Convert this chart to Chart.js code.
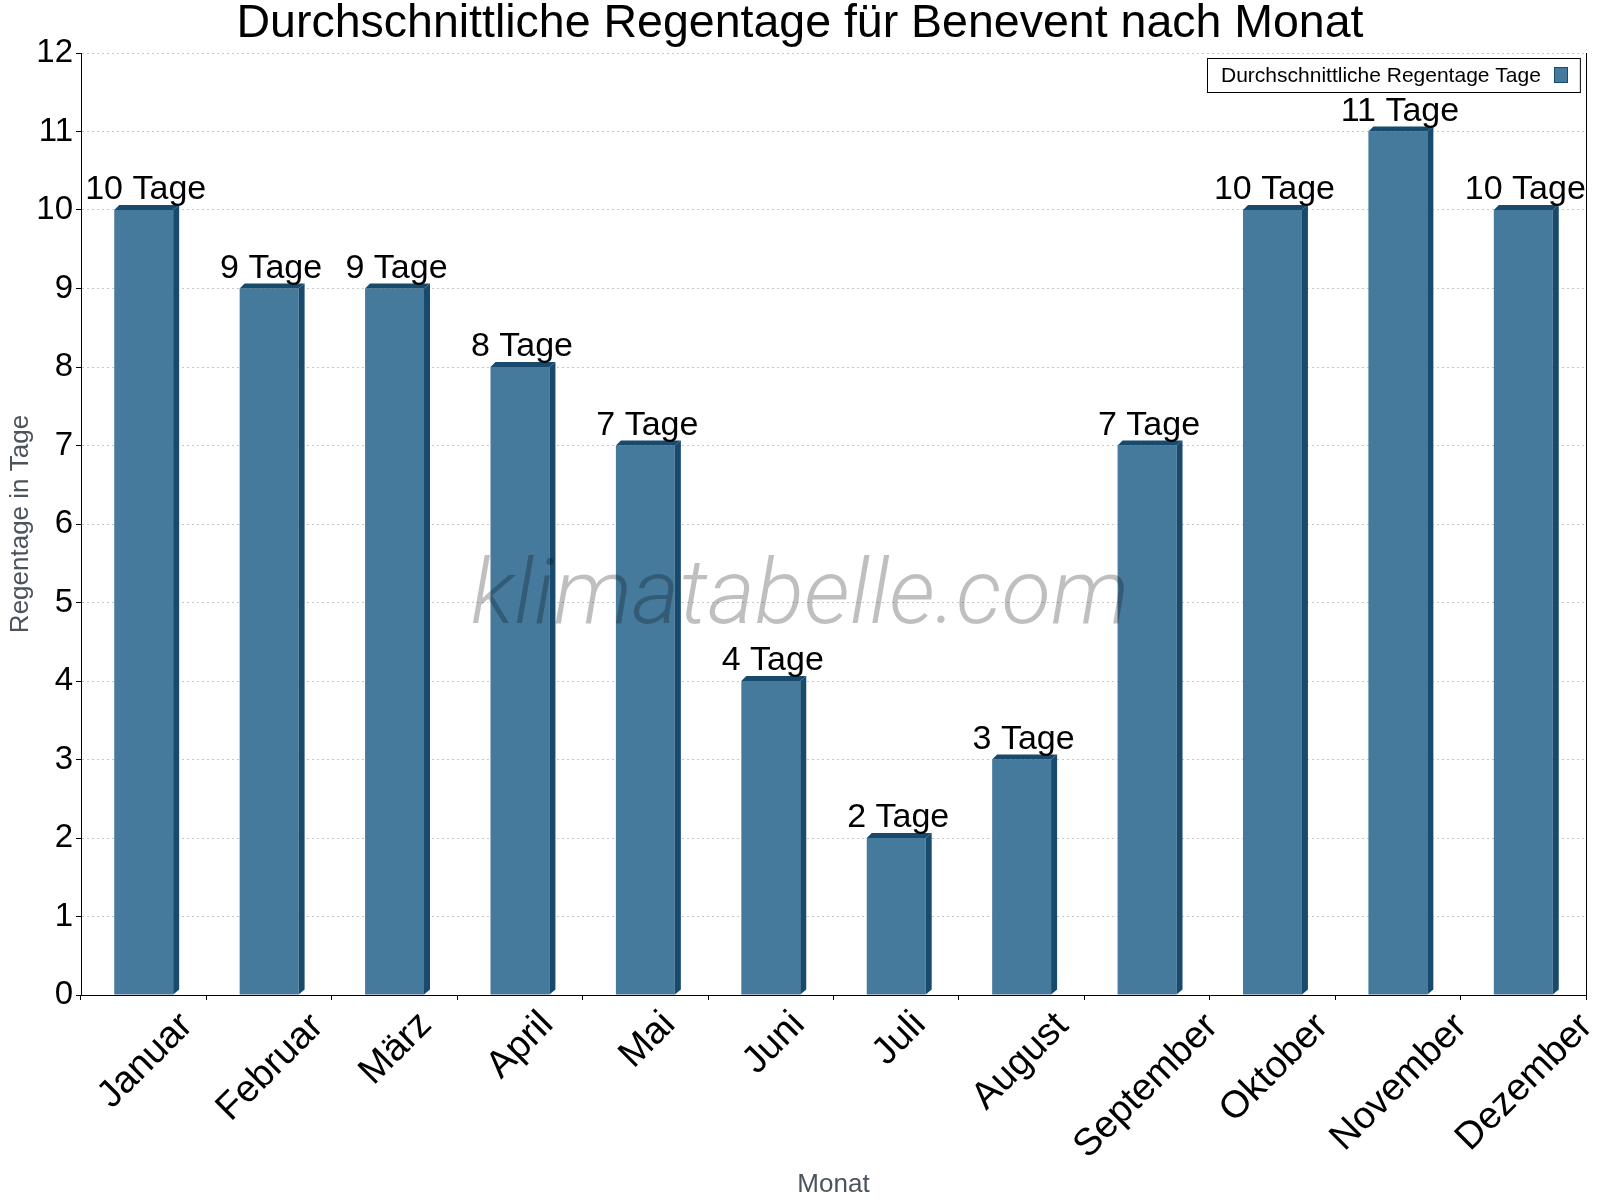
<!DOCTYPE html>
<html><head><meta charset="utf-8">
<script src="https://cdn.jsdelivr.net/npm/chart.js@4.4.0/dist/chart.umd.min.js"></script>
<style>html,body{margin:0;padding:0;background:#fff}canvas{display:block}</style>
</head><body>
<canvas id="c" width="1600" height="1200"></canvas>
<script>
const months = ['Januar','Februar','März','April','Mai','Juni','Juli','August','September','Oktober','November','Dezember'];
const rainDays = [10, 9, 9, 8, 7, 4, 2, 3, 7, 10, 11, 10];
const valueSuffix = ' Tage';
const seriesLabel = 'Durchschnittliche Regentage Tage';
const chartTitle = 'Durchschnittliche Regentage für Benevent nach Monat';
const yTitle = 'Regentage in Tage';
const xTitle = 'Monat';
const yMin = 0, yMax = 12, yStep = 1;
const watermark = 'klimatabelle.com';

const FRONT = '#467a9c', DARK = '#174a6c';
const FONT = '"Liberation Sans", Arial, Helvetica, sans-serif';
const DX = 6, DY = 5;

const bar3d = {
  id: 'bar3d',
  afterDatasetsDraw(chart) {
    const ctx = chart.ctx;
    const meta = chart.getDatasetMeta(0);
    ctx.save();
    ctx.fillStyle = DARK;
    meta.data.forEach(el => {
      const p = el.getProps(['x','y','base','width'], true);
      const l = p.x - p.width/2, r = p.x + p.width/2;
      ctx.beginPath();
      ctx.moveTo(r, p.y); ctx.lineTo(r+DX, p.y-DY); ctx.lineTo(r+DX, p.base-DY); ctx.lineTo(r, p.base); ctx.closePath(); ctx.fill();
      ctx.beginPath();
      ctx.moveTo(l, p.y); ctx.lineTo(l+DY, p.y-DY); ctx.lineTo(r+DX, p.y-DY); ctx.lineTo(r, p.y); ctx.closePath(); ctx.fill();
    });
    // watermark
    ctx.font = 'italic 300 91px Roboto, "Open Sans", sans-serif';
    ctx.fillStyle = 'rgba(0,0,0,0.25)';
    ctx.textAlign = 'center'; ctx.textBaseline = 'alphabetic';
    ctx.fillText(watermark, chart.width/2, 623);
    // value labels
    ctx.font = '34px ' + FONT;
    ctx.fillStyle = '#000';
    meta.data.forEach((el, i) => {
      const p = el.getProps(['x','y'], true);
      ctx.fillText(rainDays[i] + valueSuffix, p.x + 2, p.y - 11);
    });
    ctx.restore();
  },
  afterDraw(chart) {
    const ctx = chart.ctx;
    const ca = chart.chartArea;
    ctx.save();
    // right border
    ctx.strokeStyle = '#000'; ctx.lineWidth = 1;
    ctx.beginPath(); ctx.moveTo(Math.round(ca.right)+0.5, ca.top); ctx.lineTo(Math.round(ca.right)+0.5, ca.bottom); ctx.stroke();
    // rotated x labels (centered on tick)
    const xs = chart.scales.x;
    ctx.font = '38px ' + FONT;
    ctx.fillStyle = '#000';
    ctx.textAlign = 'left'; ctx.textBaseline = 'alphabetic';
    const a = -Math.PI/4, c = Math.cos(a), s = Math.sin(a);
    months.forEach((m, i) => {
      const px = xs.getPixelForTick(i);
      const mt = ctx.measureText(m);
      const pts = [[-mt.actualBoundingBoxLeft, -mt.actualBoundingBoxAscent],[mt.actualBoundingBoxRight, -mt.actualBoundingBoxAscent],[-mt.actualBoundingBoxLeft, mt.actualBoundingBoxDescent],[mt.actualBoundingBoxRight, mt.actualBoundingBoxDescent]].map(([x,y]) => [x*c - y*s, x*s + y*c]);
      const minX = Math.min(...pts.map(q=>q[0])), maxX = Math.max(...pts.map(q=>q[0]));
      const minY = Math.min(...pts.map(q=>q[1]));
      const tx = px - (minX+maxX)/2;
      const ty = xs.top + 13 - minY;
      ctx.save(); ctx.translate(tx, ty); ctx.rotate(a); ctx.fillText(m, 0, 0); ctx.restore();
    });
    // legend
    ctx.font = '21px ' + FONT;
    const tw = ctx.measureText(seriesLabel).width;
    const bw = 14 + tw + 13 + 14 + 12, bh = 34;
    const bx = Math.round(ca.right - 6 - bw), by = Math.round(ca.top + 5);
    ctx.fillStyle = '#fff'; ctx.fillRect(bx, by, bw, bh);
    ctx.strokeStyle = '#000'; ctx.strokeRect(bx+0.5, by+0.5, bw, bh);
    ctx.fillStyle = '#000'; ctx.textBaseline = 'middle';
    ctx.fillText(seriesLabel, bx + 14, by + bh/2 + 1);
    const mx = Math.round(bx + 14 + tw + 13);
    ctx.fillStyle = FRONT; ctx.fillRect(mx, by + 9, 14, 16);
    ctx.strokeStyle = DARK; ctx.strokeRect(mx+0.5, by+9.5, 13, 15);
    ctx.restore();
  }
};

new Chart(document.getElementById('c'), {
  type: 'bar',
  data: {
    labels: months,
    datasets: [{
      label: seriesLabel,
      data: rainDays,
      backgroundColor: FRONT,
      borderWidth: 0,
      barPercentage: 0.47,
      categoryPercentage: 1.0
    }]
  },
  options: {
    responsive: false,
    devicePixelRatio: 1,
    animation: false,
    layout: { padding: 0 },
    plugins: {
      legend: { display: false },
      tooltip: { enabled: false },
      title: {
        display: true, text: chartTitle, color: '#000',
        font: { family: FONT, size: 46.5, weight: 'normal', lineHeight: 1.0 },
        padding: { top: 1, bottom: 5.5 }
      }
    },
    scales: {
      x: {
        grid: { offset: true, drawOnChartArea: false, drawTicks: true, tickLength: 5, tickColor: '#000', color: '#000' },
        border: { display: true, color: '#000', width: 1 },
        ticks: { display: false },
        title: { display: true, text: xTitle, color: '#4b535c', font: { family: FONT, size: 26 }, padding: { top: 0, bottom: 0 } },
        afterFit: s => { s.height = 205; }
      },
      y: {
        min: yMin, max: yMax,
        ticks: { stepSize: yStep, color: '#000', font: { family: FONT, size: 33 }, padding: 3 },
        grid: { color: '#c8c8c8', tickColor: '#000', tickLength: 5, tickBorderDash: [], lineWidth: 1 },
        border: { display: true, color: '#000', width: 1, dash: [2, 3] },
        title: { display: true, text: yTitle, color: '#4b535c', font: { family: FONT, size: 26 }, padding: { top: 5, bottom: 0 } },
        afterFit: s => { s.width = 81; }
      },
      yRight: {
        position: 'right', min: yMin, max: yMax,
        ticks: { display: false },
        grid: { display: false, drawTicks: false },
        border: { display: false },
        afterFit: s => { s.width = 14; }
      }
    }
  },
  plugins: [bar3d]
});
</script>
</body></html>
